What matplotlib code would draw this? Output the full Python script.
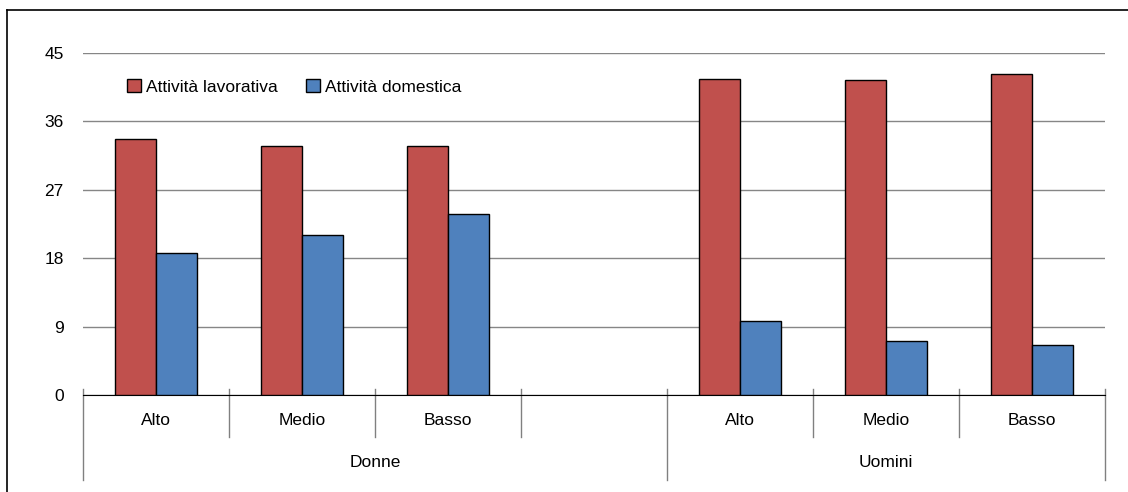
import matplotlib.pyplot as plt
import numpy as np

plt.rcParams['font.family'] = ['Liberation Sans Narrow', 'Liberation Sans', 'DejaVu Sans']

livelli = ['Alto', 'Medio', 'Basso', '', 'Alto', 'Medio', 'Basso']
gruppi = ['Donne', 'Uomini']
pos = [0, 1, 2, 4, 5, 6]
lavoro = [33.7, 32.7, 32.8, 41.6, 41.5, 42.2]
domestica = [18.7, 21.0, 23.8, 9.75, 7.1, 6.55]

fig = plt.figure(figsize=(11.28, 4.92), dpi=100)
ax = fig.add_axes([83 / 1128, 97 / 492, (1105 - 83) / 1128, 342 / 492])

w = 0.284
x = np.array(pos)
ax.bar(x - w / 2, lavoro, w, color='#C0504D', edgecolor='black', linewidth=1,
       label='Attività lavorativa', zorder=3)
ax.bar(x + w / 2, domestica, w, color='#4F81BD', edgecolor='black', linewidth=1,
       label='Attività domestica', zorder=3)

ax.set_xlim(-0.5, 6.5)
ax.set_ylim(0, 45)
ax.set_yticks(np.arange(0, 46, 9))
ax.yaxis.grid(True, color='#868686', linewidth=1)
ax.set_axisbelow(True)
for s in ['top', 'right', 'left']:
    ax.spines[s].set_visible(False)
ax.spines['bottom'].set_color('black')
ax.tick_params(axis='y', length=0, pad=14, labelsize=12.5)
ax.set_xticks([])

tr = ax.get_xaxis_transform()
for i, lab in enumerate(livelli):
    ax.text(i, -0.076, lab, transform=tr, ha='center', va='center', fontsize=12.5)
for b in np.arange(-0.5, 7, 1):
    bottom = -0.249 if b in (-0.5, 3.5, 6.5) else -0.123
    ax.plot([b, b], [0.0175, bottom], transform=tr, color='#808080',
            linewidth=1, clip_on=False)
ax.text(1.5, -0.196, gruppi[0], transform=tr, ha='center', va='center', fontsize=12.5)
ax.text(5.0, -0.196, gruppi[1], transform=tr, ha='center', va='center', fontsize=12.5)

ax.legend(loc='upper left', bbox_to_anchor=(0.028, 0.97), ncol=2, frameon=False,
          fontsize=12.5, handlelength=0.8, handleheight=0.8, handletextpad=0.3,
          columnspacing=1.6)

# cornice superiore e sinistra
fig.add_artist(plt.Line2D([7 / 1128, 7 / 1128], [0, 1 - 10 / 492], color='black', linewidth=1.2))
fig.add_artist(plt.Line2D([7 / 1128, 1], [1 - 10 / 492, 1 - 10 / 492], color='black', linewidth=1.2))

fig.savefig('out.png', dpi=100)
